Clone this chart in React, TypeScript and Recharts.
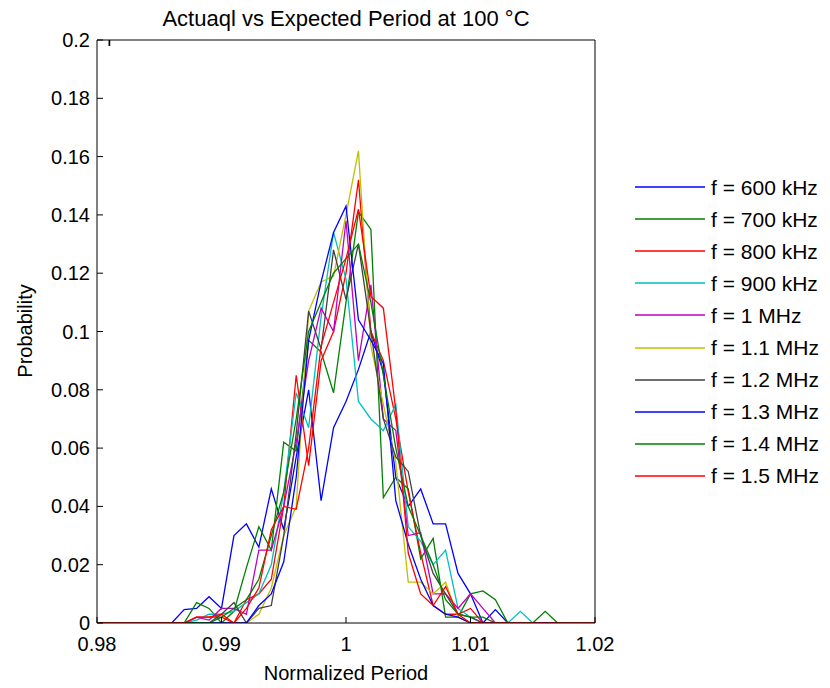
import { LineChart, Line, XAxis, YAxis, Legend, Label } from 'recharts';

const FONT = '"Liberation Sans", Arial, Helvetica, sans-serif';

// bin centres of the histograms (normalized period)
const period = [
  0.98, 0.981, 0.982, 0.983, 0.984, 0.985, 0.986, 0.987, 0.988, 0.989,
  0.99, 0.991, 0.992, 0.993, 0.994, 0.995, 0.996, 0.997, 0.998, 0.999,
  1.0, 1.001, 1.002, 1.003, 1.004, 1.005, 1.006, 1.007, 1.008, 1.009,
  1.01, 1.011, 1.012, 1.013, 1.014, 1.015, 1.016, 1.017, 1.018, 1.019, 1.02,
];

const f600k = [0, 0, 0, 0, 0, 0, 0, 0.0046, 0.005, 0.009, 0.005, 0.03, 0.034, 0.026, 0.046, 0.032, 0.057, 0.08, 0.042, 0.067, 0.076, 0.087, 0.1, 0.086, 0.05, 0.04, 0.046, 0.034, 0.034, 0.017, 0.01, 0, 0.0046, 0, 0, 0, 0, 0, 0, 0, 0];
const f700k = [0, 0, 0, 0, 0, 0, 0, 0, 0.007, 0.005, 0, 0.004, 0.019, 0.033, 0.025, 0.062, 0.059, 0.097, 0.093, 0.079, 0.11, 0.141, 0.135, 0.043, 0.05, 0.046, 0.022, 0.029, 0.002, 0.002, 0.01, 0.011, 0.008, 0, 0, 0, 0, 0, 0, 0, 0];
const f800k = [0, 0, 0, 0, 0, 0, 0, 0, 0.002, 0.002, 0.002, 0, 0.008, 0.01, 0.015, 0.04, 0.085, 0.054, 0.09, 0.1, 0.12, 0.152, 0.1, 0.09, 0.07, 0.045, 0.024, 0.006, 0.003, 0.003, 0.005, 0, 0, 0, 0, 0, 0, 0, 0, 0, 0];
const f900k = [0, 0, 0, 0, 0, 0, 0, 0, 0.001, 0.003, 0.003, 0.004, 0.007, 0.01, 0.02, 0.045, 0.079, 0.067, 0.105, 0.134, 0.118, 0.076, 0.07, 0.066, 0.075, 0.033, 0.028, 0.02, 0.025, 0.005, 0.002, 0, 0, 0, 0.004, 0, 0, 0, 0, 0, 0];
const f1M = [0, 0, 0, 0, 0, 0, 0, 0, 0.002, 0.001, 0.005, 0.005, 0.003, 0.025, 0.025, 0.04, 0.062, 0.09, 0.108, 0.1, 0.138, 0.09, 0.116, 0.07, 0.066, 0.03, 0.031, 0.01, 0.01, 0.005, 0.01, 0.005, 0, 0, 0, 0, 0, 0, 0, 0, 0];
const f1M1 = [0, 0, 0, 0, 0, 0, 0, 0, 0, 0, 0, 0, 0, 0.003, 0.012, 0.03, 0.04, 0.107, 0.117, 0.119, 0.14, 0.162, 0.095, 0.075, 0.055, 0.014, 0.014, 0.01, 0.014, 0.002, 0, 0, 0, 0, 0, 0, 0, 0, 0, 0, 0];
const f1M2 = [0, 0, 0, 0, 0, 0, 0, 0, 0, 0, 0.003, 0.007, 0, 0.005, 0.006, 0.03, 0.065, 0.107, 0.094, 0.128, 0.111, 0.13, 0.1, 0.07, 0.057, 0.052, 0.03, 0.017, 0.01, 0.003, 0.002, 0, 0, 0, 0, 0, 0, 0, 0, 0, 0];
const f1M3 = [0, 0, 0, 0, 0, 0, 0, 0, 0, 0, 0, 0, 0, 0.006, 0.01, 0.021, 0.05, 0.097, 0.117, 0.134, 0.143, 0.104, 0.097, 0.089, 0.042, 0.027, 0.015, 0.006, 0.003, 0.002, 0, 0, 0, 0, 0, 0, 0, 0, 0, 0, 0];
const f1M4 = [0, 0, 0, 0, 0, 0, 0, 0, 0, 0, 0.002, 0.005, 0.008, 0.015, 0.03, 0.045, 0.07, 0.1, 0.11, 0.12, 0.125, 0.13, 0.11, 0.085, 0.06, 0.04, 0.03, 0.02, 0.008, 0.003, 0.002, 0.002, 0, 0, 0, 0, 0.004, 0, 0, 0, 0];
const f1M5 = [0, 0, 0, 0, 0, 0, 0, 0, 0.002, 0.002, 0.003, 0, 0.005, 0.012, 0.032, 0.04, 0.039, 0.06, 0.095, 0.11, 0.125, 0.142, 0.112, 0.108, 0.073, 0.024, 0.01, 0.006, 0.0125, 0.003, 0, 0, 0, 0, 0, 0, 0, 0, 0, 0, 0];

const seriesKeys = ['f600k', 'f700k', 'f800k', 'f900k', 'f1M', 'f1M1', 'f1M2', 'f1M3', 'f1M4', 'f1M5'];
const seriesNames = [
  'f = 600 kHz', 'f = 700 kHz', 'f = 800 kHz', 'f = 900 kHz', 'f = 1 MHz',
  'f = 1.1 MHz', 'f = 1.2 MHz', 'f = 1.3 MHz', 'f = 1.4 MHz', 'f = 1.5 MHz',
];
const seriesColors = [
  '#0000ff', '#008000', '#ff0000', '#00bfbf', '#bf00bf',
  '#bfbf00', '#404040', '#0000ff', '#008000', '#ff0000',
];
const seriesValues = [f600k, f700k, f800k, f900k, f1M, f1M1, f1M2, f1M3, f1M4, f1M5];

const xTicks = [0.98, 0.99, 1.0, 1.01, 1.02];
const xTickLabels = ['0.98', '0.99', '1', '1.01', '1.02'];
const yTicks = [0, 0.02, 0.04, 0.06, 0.08, 0.1, 0.12, 0.14, 0.16, 0.18, 0.2];
const yTickLabels = ['0', '0.02', '0.04', '0.06', '0.08', '0.1', '0.12', '0.14', '0.16', '0.18', '0.2'];

const rows = period.map((p, i) => {
  const row: Record<string, number> = { period: p };
  seriesKeys.forEach((k, j) => {
    row[k] = seriesValues[j][i];
  });
  return row;
});

const TICK = 6;
const labelOf = (ticks: number[], labels: string[], v: number) =>
  labels[ticks.findIndex((t) => Math.abs(t - v) < 1e-9)];

function BottomTick({ x, y, payload }: any) {
  return (
    <g>
      <line x1={x} y1={y} x2={x} y2={y - TICK} stroke="#000" />
      <text x={x} y={y + 28} textAnchor="middle" fontSize={20} fontFamily={FONT} fill="#000">
        {labelOf(xTicks, xTickLabels, payload.value)}
      </text>
    </g>
  );
}

function TopTick({ x, y }: any) {
  return <line x1={x} y1={y} x2={x} y2={y + TICK} stroke="#000" />;
}

function LeftTick({ x, y, payload }: any) {
  return (
    <g>
      <line x1={x} y1={y} x2={x + TICK} y2={y} stroke="#000" />
      <text x={x - 7} y={y + 7} textAnchor="end" fontSize={20} fontFamily={FONT} fill="#000">
        {labelOf(yTicks, yTickLabels, payload.value)}
      </text>
    </g>
  );
}

function RightTick({ x, y }: any) {
  return <line x1={x} y1={y} x2={x - TICK} y2={y} stroke="#000" />;
}

function LegendBox() {
  return (
    <div style={{ fontFamily: FONT, fontSize: 21, color: '#000', whiteSpace: 'nowrap' }}>
      {seriesNames.map((n, i) => (
        <div key={n} style={{ height: 32.1, display: 'flex', alignItems: 'center' }}>
          <svg width={70} height={4} style={{ display: 'block' }}>
            <line x1={0} y1={2} x2={70} y2={2} stroke={seriesColors[i]} strokeWidth={1.3} />
          </svg>
          <span style={{ marginLeft: 6, lineHeight: 1 }}>{n}</span>
        </div>
      ))}
    </div>
  );
}

export default function App() {
  return (
    <div style={{ position: 'absolute', left: 0, top: 0, width: 830, height: 688, background: '#fff' }}>
      <LineChart
        width={830}
        height={688}
        data={rows}
        margin={{ top: 39, right: 234, bottom: 35, left: 0 }}
      >
        <XAxis
          xAxisId={0}
          dataKey="period"
          type="number"
          domain={[0.98, 1.02]}
          ticks={xTicks}
          interval={0}
          allowDataOverflow
          height={30}
          tickSize={0}
          tickMargin={0}
          tickLine={false}
          axisLine={{ stroke: '#000' }}
          tick={<BottomTick />}
        >
          <Label
            content={() => (
              <text x={346} y={680} textAnchor="middle" fontSize={20} fontFamily={FONT} fill="#000">
                Normalized Period
              </text>
            )}
          />
        </XAxis>
        <XAxis
          xAxisId="top"
          orientation="top"
          type="number"
          domain={[0.98, 1.02]}
          ticks={xTicks}
          interval={0}
          height={1}
          tickSize={0}
          tickMargin={0}
          tickLine={false}
          axisLine={{ stroke: '#000' }}
          tick={<TopTick />}
        >
          <Label
            content={() => (
              <text x={346} y={26} textAnchor="middle" fontSize={22} fontFamily={FONT} fill="#000">
                Actuaql vs Expected Period at 100 °C
              </text>
            )}
          />
        </XAxis>
        <YAxis
          yAxisId={0}
          type="number"
          domain={[0, 0.2]}
          ticks={yTicks}
          interval={0}
          allowDataOverflow
          width={97}
          tickSize={0}
          tickMargin={0}
          tickLine={false}
          axisLine={{ stroke: '#000' }}
          tick={<LeftTick />}
        >
          <Label
            content={() => (
              <text
                x={25}
                y={331}
                dy="0.35em"
                transform="rotate(-90 25 331)"
                textAnchor="middle"
                fontSize={20}
                fontFamily={FONT}
                fill="#000"
              >
                Probability
              </text>
            )}
          />
        </YAxis>
        <YAxis
          yAxisId="right"
          orientation="right"
          type="number"
          domain={[0, 0.2]}
          ticks={yTicks}
          interval={0}
          width={1}
          tickSize={0}
          tickMargin={0}
          tickLine={false}
          axisLine={{ stroke: '#000' }}
          tick={<RightTick />}
        />
        <Legend
          layout="horizontal"
          verticalAlign="middle"
          align="center"
          content={<LegendBox />}
          wrapperStyle={{ position: 'absolute', left: 635, top: 171, width: 195 }}
        />
        {seriesKeys.map((k, i) => (
          <Line
            key={k}
            dataKey={k}
            name={seriesNames[i]}
            type="linear"
            stroke={seriesColors[i]}
            strokeWidth={1.3}
            dot={false}
            activeDot={false}
            isAnimationActive={false}
          />
        ))}
      </LineChart>
    </div>
  );
}
